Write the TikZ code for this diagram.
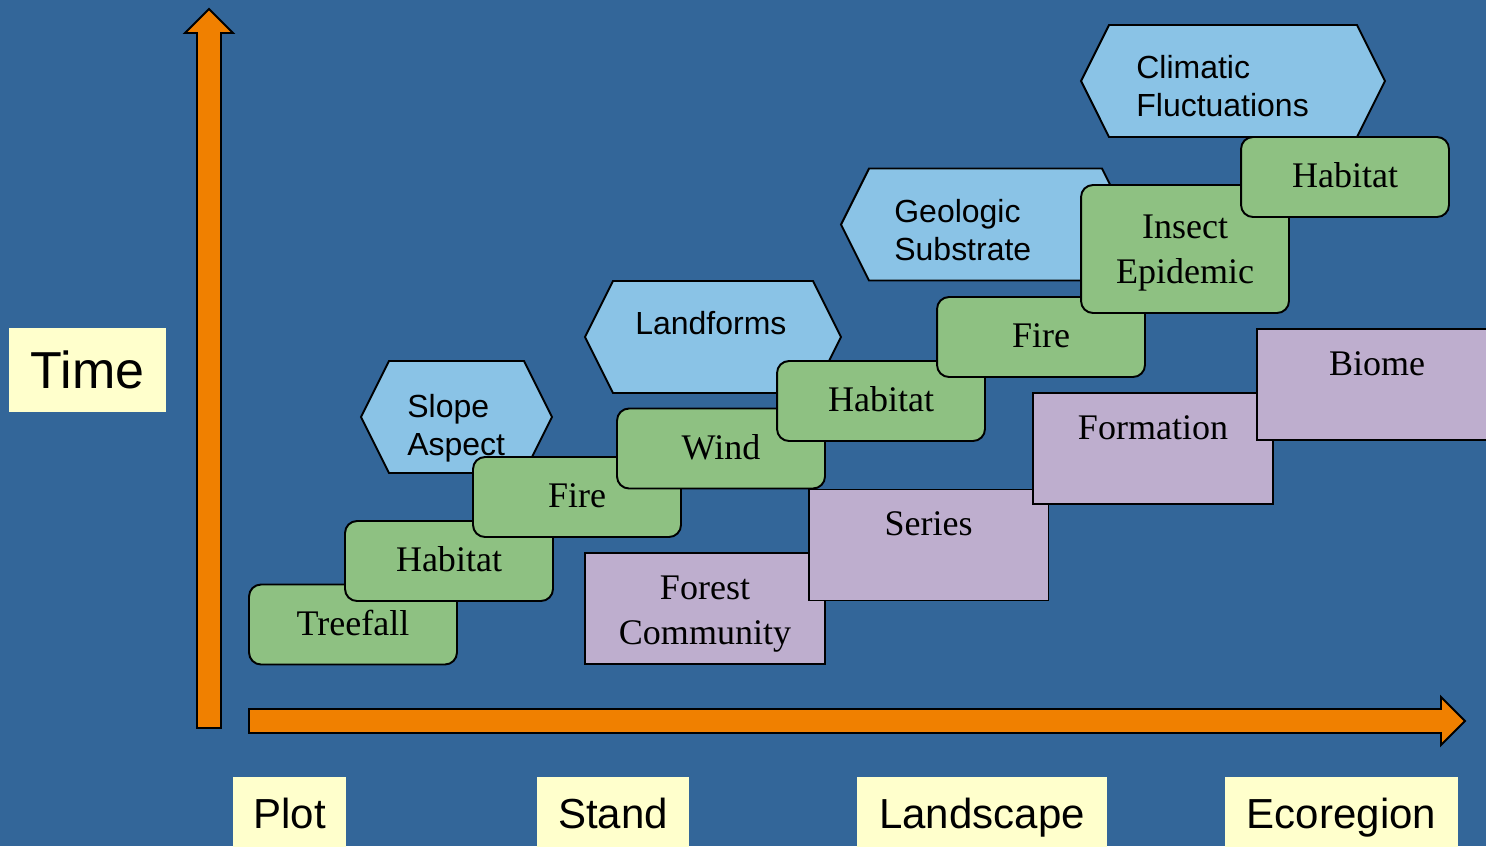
\documentclass[tikz,border=0pt]{standalone}
\usepackage{fontspec}
\setmainfont{Liberation Serif}
\setsansfont{Liberation Sans}
\usetikzlibrary{positioning,shapes.symbols}

\definecolor{bgblue}{HTML}{336699}
\definecolor{axisorange}{HTML}{F08000}
\definecolor{hexblue}{HTML}{8AC3E6}
\definecolor{boxgreen}{HTML}{8EC182}
\definecolor{boxlav}{HTML}{BEAECE}
\definecolor{labelyellow}{HTML}{FFFFCC}

\begin{document}
\begin{tikzpicture}[
    x=0.02cm, y=-0.02cm,
    greenbox/.style={rectangle,rounded corners=0.24cm,draw=black,line width=1.1pt,fill=boxgreen,minimum width=4.16cm,minimum height=1.6cm,align=center,font=\fontsize{20.5}{25.6}\selectfont},
    oneline/.style={text height=14.3pt,text depth=2.3pt},
    lavbox/.style={rectangle,draw=black,line width=1.1pt,fill=boxlav,minimum width=4.8cm,minimum height=2.22cm},
    lavtext/.style={align=center,anchor=base,inner sep=0pt,font=\fontsize{20.5}{25.6}\selectfont},
    hexbox/.style={signal,signal to=west and east,signal pointer angle=126.87,draw=black,line width=1.1pt,fill=hexblue,minimum height=2.24cm},
    hextext/.style={align=left,anchor=base west,inner sep=0pt,font=\sffamily\fontsize{18.2}{21.6}\selectfont},
    scalebox/.style={rectangle,fill=labelyellow,minimum height=1.44cm,inner sep=0pt,text height=17.1pt,text depth=0pt,font=\sffamily\fontsize{23.9}{28}\selectfont},
    axis/.style={draw=black,line width=1.1pt,fill=axisorange,line join=miter},
  ]
  \useasboundingbox (0,0) rectangle (1486,846);
  \clip (0,0) rectangle (1486,846);
  \fill[bgblue] (0,0) rectangle (1486,846);

  % axes
  \draw[axis] (197,728) -- (197,33) -- (185,33) -- (209,9) -- (233,33) -- (221,33) -- (221,728) -- cycle;
  \draw[axis] (249,709) -- (1441,709) -- (1441,697) -- (1465,721) -- (1441,745) -- (1441,733) -- (249,733) -- cycle;

  % scale labels
  \node[scalebox,minimum width=3.14cm,minimum height=1.68cm,text height=21.2pt,font=\sffamily\fontsize{29.6}{34}\selectfont] (time) at (87.5,370) {Time};
  \node[scalebox,minimum width=2.26cm] (plot) at (289.5,813) {Plot};
  \node[scalebox,minimum width=3.04cm] (stand) at (613,813) {Stand};
  \node[scalebox,minimum width=5cm] (land) at (982,813) {Landscape};
  \node[scalebox,minimum width=4.66cm] (eco) at (1341.5,813) {Ecoregion};

  % vegetation units
  \node[lavbox] (forest) at (705,608.5) {};
  \node[lavtext] (foresttxt) at ([yshift=-1.84cm]forest.north) {Forest\\Community};
  \node[lavbox] (series) at (928.5,545) {};
  \node[lavtext] (seriestxt) at ([yshift=-0.94cm]series.north) {Series};
  \node[lavbox] (formation) at (1153,448.5) {};
  \node[lavtext] (formationtxt) at ([yshift=-0.94cm]formation.north) {Formation};
  \node[lavbox] (biome) at (1377,384.5) {};
  \node[lavtext] (biometxt) at ([yshift=-0.94cm]biome.north) {Biome};

  % physical setting
  \node[hexbox,minimum width=3.82cm] (slope) at (456.5,417) {};
  \node[hextext] (slopetxt) at (407,455) {Slope\\Aspect};
  \node[hexbox,minimum width=5.12cm] (landforms) at (713,337) {};
  \node[hextext] (landformstxt) at (635,334) {Landforms};
  \node[hexbox,minimum width=5.78cm] (geologic) at (985.5,224.5) {};
  \node[hextext] (geologictxt) at (894,260.7) {Geologic\\Substrate};
  \node[hexbox,minimum width=6.08cm] (climatic) at (1233,81) {};
  \node[hextext] (climatictxt) at (1136,116.7) {Climatic\\Fluctuations};

  % disturbances
  \node[greenbox,oneline] (treefall) at (353,624.5) {Treefall};
  \node[greenbox,oneline] (habitat1) at (449,561) {Habitat};
  \node[greenbox,oneline] (fire1) at (577,497) {Fire};
  \node[greenbox,oneline] (wind) at (721,448.5) {Wind};
  \node[greenbox,oneline] (habitat2) at (881,401) {Habitat};
  \node[greenbox,oneline] (fire2) at (1041,337) {Fire};
  \node[greenbox,minimum height=2.56cm,text depth=0pt] (insect) at (1185,249) {Insect\\Epidemic};
  \node[greenbox,oneline] (habitat3) at (1345,177) {Habitat};
\end{tikzpicture}
\end{document}
